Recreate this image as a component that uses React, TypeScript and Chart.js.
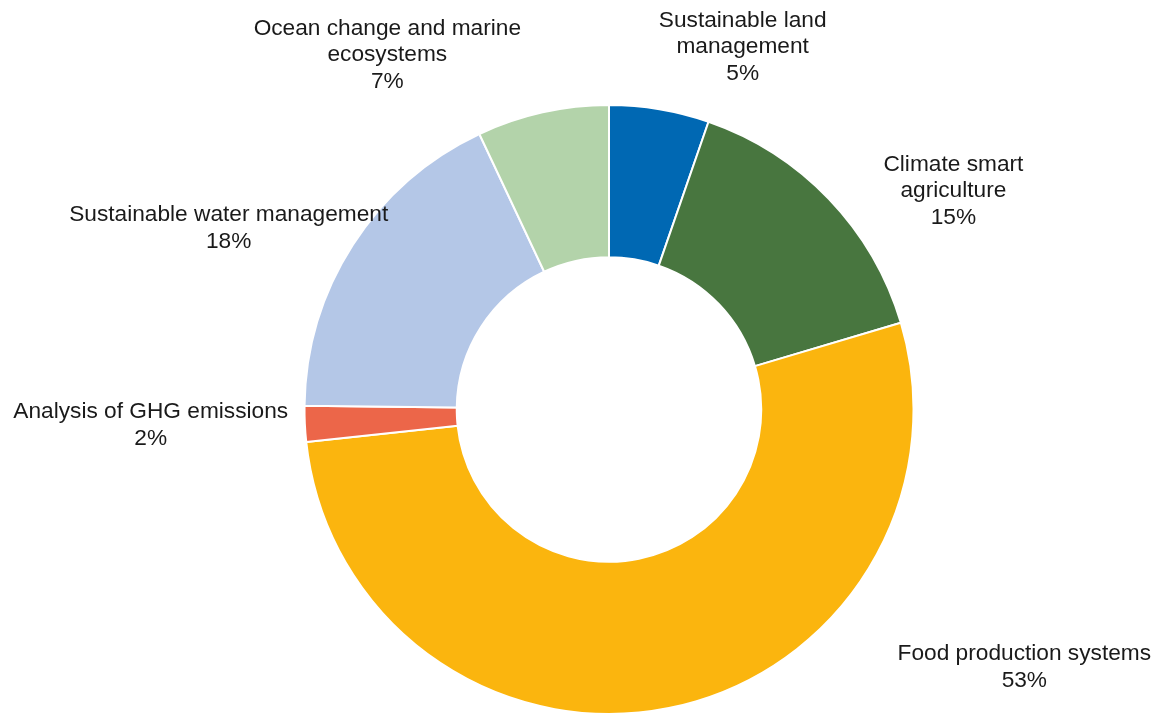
import React, { useEffect, useRef } from "react";
import { Chart, registerables } from "chart.js";

Chart.register(...registerables);

const categories = [
  ["Sustainable land", "management"],
  ["Climate smart", "agriculture"],
  ["Food production systems"],
  ["Analysis of GHG emissions"],
  ["Sustainable water management"],
  ["Ocean change and marine", "ecosystems"],
];
const shares = [5.3, 15.1, 52.9, 1.9, 17.8, 7.0];
const colors = ["#0068b3", "#48763f", "#fbb50e", "#ec6649", "#b4c7e7", "#b3d3aa"];
// label block centre, in units of the outer radius, relative to the doughnut centre
const labelOffsets = [
  [0.439, -1.19],
  [1.131, -0.718],
  [1.364, 0.846],
  [-1.505, 0.052],
  [-1.249, -0.595],
  [-0.728, -1.164],
];

const FONT = '22.7px "Liberation Sans", Arial, Helvetica, sans-serif';
const LINE_H = 26.5;

const labelPlugin = {
  id: "outerLabels",
  afterDatasetsDraw(chart: any) {
    const meta = chart.getDatasetMeta(0);
    const ctx = chart.ctx;
    const total = shares.reduce((a, b) => a + b, 0);
    ctx.save();
    ctx.font = FONT;
    ctx.fillStyle = "#1a1a1a";
    ctx.textAlign = "center";
    ctx.textBaseline = "middle";
    meta.data.forEach((arc: any, i: number) => {
      const { x, y, outerRadius } = arc.getProps(["x", "y", "outerRadius"], true);
      const lines = [...categories[i], Math.round((shares[i] / total) * 100) + "%"];
      const cx = x + labelOffsets[i][0] * outerRadius;
      const cy = y + labelOffsets[i][1] * outerRadius;
      const start = cy - ((lines.length - 1) * LINE_H) / 2;
      lines.forEach((t, j) => ctx.fillText(t, cx, start + j * LINE_H));
    });
    ctx.restore();
  },
};

export default function App() {
  const ref = useRef<HTMLCanvasElement>(null);
  useEffect(() => {
    if (!ref.current) return;
    const chart = new Chart(ref.current, {
      type: "doughnut",
      data: {
        labels: categories.map((c) => c.join(" ")),
        datasets: [
          {
            data: shares,
            backgroundColor: colors,
            borderColor: "#ffffff",
            borderWidth: 2,
          },
        ],
      },
      options: {
        animation: false,
        responsive: false,
        cutout: "50%",
        layout: { padding: { top: 104, bottom: -1, left: 303, right: 245 } },
        plugins: {
          legend: { display: false },
          tooltip: { enabled: false },
        },
      },
      plugins: [labelPlugin],
    });
    return () => chart.destroy();
  }, []);
  return (
    <div style={{ position: "absolute", left: 0, top: 0, width: 1160, height: 715, background: "#fff" }}>
      <canvas ref={ref} width={1160} height={715} />
    </div>
  );
}
